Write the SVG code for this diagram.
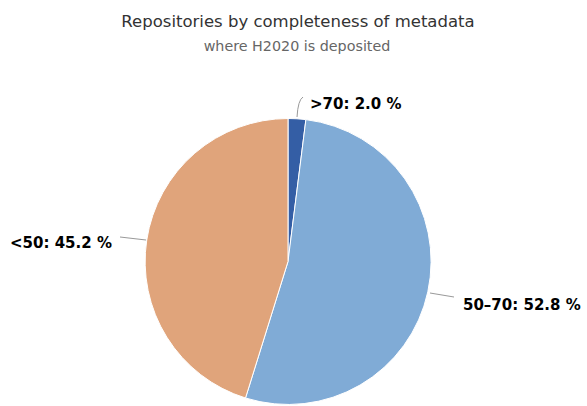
<svg xmlns="http://www.w3.org/2000/svg" width="587" height="406" viewBox="0 0 587 406">
<style>
.t{font-family:"DejaVu Sans","Verdana",sans-serif;text-anchor:middle}
.lbl{font-family:"DejaVu Sans","Verdana",sans-serif;font-weight:bold;font-size:15px;fill:#000}
.ln{fill:none;stroke:#999;stroke-width:1}
.sl{stroke:#fff;stroke-width:1;stroke-linejoin:round}
</style>
<rect width="587" height="406" fill="#fff"/>
<text class="t" x="298" y="27" font-size="16.5" fill="#333">Repositories by completeness of metadata</text>
<text class="t" x="297" y="51" font-size="14.3" fill="#666">where H2020 is deposited</text>
<g id="connectors">
<path class="ln" d="M297 117 Q298 100 303 97"/>
<path class="ln" d="M120 237 L146 240"/>
<path class="ln" d="M430 293 L454 297"/>
</g>
<g id="slice-gt70">
<path class="sl" fill="#345EA5" d="M288 261.5 L288 118.5 A143 143 0 0 1 305.9 119.6 Z"/>
</g>
<g id="slice-50-70">
<path class="sl" fill="#80ABD6" d="M288 261.5 L305.9 119.6 A143 143 0 1 1 245.5 398 Z"/>
</g>
<g id="slice-lt50">
<path class="sl" fill="#E0A47B" d="M288 261.5 L245.5 398 A143 143 0 0 1 288 118.5 Z"/>
</g>
<g id="label-gt70"><text class="lbl" x="310" y="109">&gt;70: 2.0 %</text></g>
<g id="label-lt50"><text class="lbl" x="10" y="248">&lt;50: 45.2 %</text></g>
<g id="label-50-70"><text class="lbl" x="463" y="310">50–70: 52.8 %</text></g>
</svg>
